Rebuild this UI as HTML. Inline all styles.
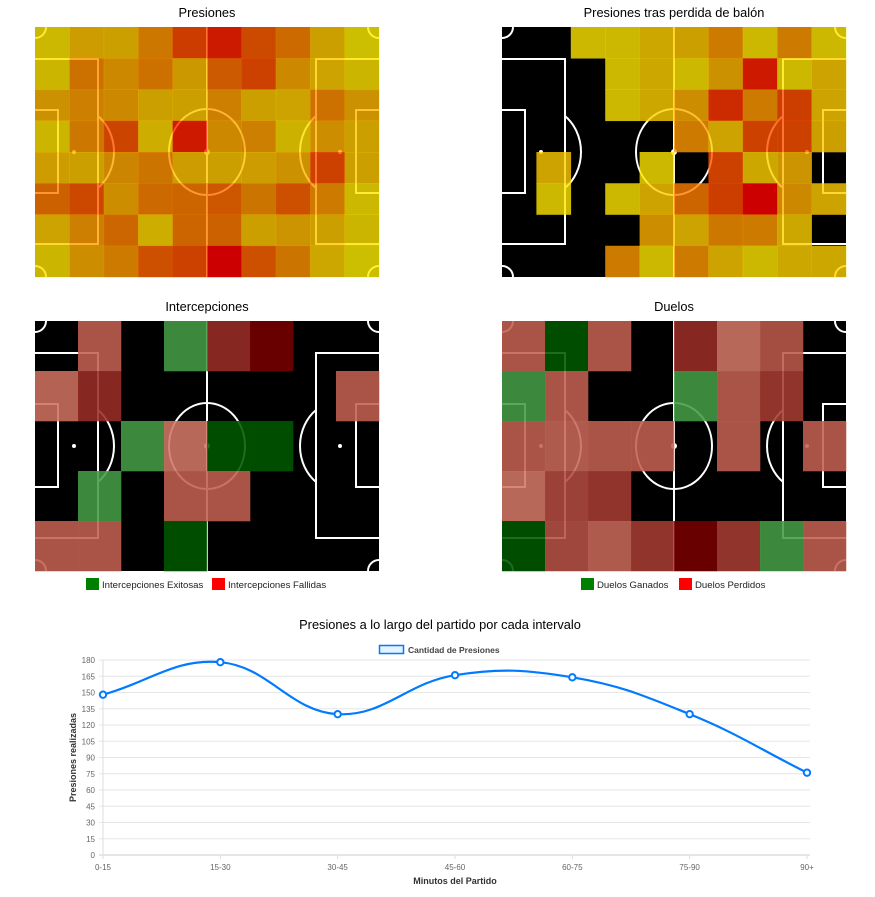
<!DOCTYPE html>
<html><head><meta charset="utf-8">
<style>
html,body{margin:0;padding:0;background:#fff;width:875px;height:897px;overflow:hidden;font-family:"Liberation Sans",Arial,sans-serif;}
svg{display:block}
</style></head>
<body>
<svg id="root" width="875" height="897" viewBox="0 0 875 897">
  <text x="207" y="17" text-anchor="middle" font-size="12.8" fill="#000">Presiones</text>
  <text x="674" y="17" text-anchor="middle" font-size="12.8" fill="#000">Presiones tras perdida de balón</text>
  <text x="207" y="311" text-anchor="middle" font-size="12.8" fill="#000">Intercepciones</text>
  <text x="674" y="311" text-anchor="middle" font-size="12.8" fill="#000">Duelos</text>
  <g id="p1"></g>
  <g id="p2"></g>
  <g id="p3"></g>
  <g id="p4"></g>
  <g>
    <rect x="86" y="578" width="13" height="12" fill="#008000"/>
    <text x="102" y="588" font-size="9.6" fill="#222">Intercepciones Exitosas</text>
    <rect x="212" y="578" width="13" height="12" fill="#ff0000"/>
    <text x="228" y="588" font-size="9.6" fill="#222">Intercepciones Fallidas</text>
  </g>
  <g>
    <rect x="581" y="578" width="13" height="12" fill="#008000"/>
    <text x="597" y="588" font-size="9.6" fill="#222">Duelos Ganados</text>
    <rect x="679" y="578" width="13" height="12" fill="#ff0000"/>
    <text x="695" y="588" font-size="9.6" fill="#222">Duelos Perdidos</text>
  </g>
  <text x="440" y="629" text-anchor="middle" font-size="12.8" fill="#000">Presiones a lo largo del partido por cada intervalo</text>
  <g>
    <rect x="379.5" y="645.5" width="24" height="8" fill="rgba(0,123,255,0.1)" stroke="#007bff" stroke-width="1.5"/>
    <text x="408" y="653" font-size="8.5" font-weight="bold" fill="#444">Cantidad de Presiones</text>
  </g>
  <g id="chart"></g>
</svg>
<script>
const presionesValues = [
  [3,18,16,37,69,86,61,44,16,0],
  [5,41,28,41,20,53,66,28,14,5],
  [24,33,28,16,16,33,16,14,41,24],
  [5,37,64,9,87,28,33,7,26,16],
  [18,16,30,39,18,16,18,24,66,16],
  [49,62,26,45,47,54,39,58,35,3],
  [14,33,46,9,47,49,16,22,16,5],
  [5,26,35,58,66,100,58,39,12,0]
];
const N = null;
const perdidaValues = [
  [N,N,3,3,12,16,35,3,35,3],
  [N,N,N,3,12,3,24,87,3,14],
  [N,N,N,3,12,26,78,35,68,14],
  [N,N,N,N,N,35,14,66,66,16],
  [N,14,N,N,3,N,66,12,22,N],
  [N,3,N,3,14,47,68,100,28,14],
  [N,N,N,N,26,14,37,35,12,N],
  [N,N,N,35,3,35,14,3,12,12]
];
const intercepcionesValues = [
  [N,-0.35,N,0.4,-0.7,-1,N,N],
  [-0.25,-0.7,N,N,N,N,N,-0.35],
  [N,N,0.4,-0.2,1,1,N,N],
  [N,0.4,N,-0.35,-0.35,N,N,N],
  [-0.35,-0.35,N,1,N,N,N,N]
];
const duelosValues = [
  [-0.35,1,-0.35,N,-0.7,-0.2,-0.4,N],
  [0.4,-0.35,N,N,0.4,-0.35,-0.6,N],
  [-0.35,-0.3,-0.35,-0.35,N,-0.35,N,-0.35],
  [-0.2,-0.5,-0.6,N,N,N,N,N],
  [1,-0.45,-0.3,-0.6,-1,-0.6,0.4,-0.35]
];
const intervals = ["0-15","15-30","30-45","45-60","60-75","75-90","90+"];
const presionesSeries = [148,178,130,166,164,130,76];
const yTicks = [0,15,30,45,60,75,90,105,120,135,150,165,180];

const NS = "http://www.w3.org/2000/svg";
function mk(tag, attrs, parent){
  const e = document.createElementNS(NS, tag);
  for (const k in attrs) e.setAttribute(k, attrs[k]);
  if (parent) parent.appendChild(e);
  return e;
}
const PW = 344, PH = 250;
function drawPitch(g, x0, y0){
  const bg = mk('rect', {x:x0,y:y0,width:PW,height:PH,fill:'#000'}, g);
  
  
  const lines = mk('g', {fill:'none',stroke:'#fff','stroke-width':2}, g);
  
  
  const cx = x0 + PW/2, cy = y0 + PH/2;
  mk('line', {x1:cx,y1:y0,x2:cx,y2:y0+PH}, lines);
  mk('ellipse', {cx:cx,cy:cy,rx:38,ry:43}, lines);
  mk('circle', {cx:cx,cy:cy,r:2,fill:'#fff'}, lines);
  [0,1].forEach(side=>{
    const s = side ? -1 : 1, ex = side ? x0+PW : x0;
    mk('path', {d:`M${ex} ${y0+32} H${ex+s*63} V${y0+217} H${ex}`}, lines);
    mk('path', {d:`M${ex} ${y0+83} H${ex+s*23} V${y0+166} H${ex}`}, lines);
    mk('circle', {cx:ex+s*39,cy:cy,r:2,fill:'#fff',stroke:'none'}, lines);
    const ax = ex + s*63, r = 40, ry = 45;
    const dy = ry*Math.sqrt(1 - Math.pow(24/r,2));
    mk('path', {d:`M${ax} ${cy-dy} A${r} ${ry} 0 0 ${side?0:1} ${ax} ${cy+dy}`}, lines);
    mk('path', {d:`M${ex} ${y0+11} A11 11 0 0 ${side?1:0} ${ex+s*11} ${y0}`}, lines);
    mk('path', {d:`M${ex} ${y0+PH-11} A11 11 0 0 ${side?0:1} ${ex+s*11} ${y0+PH}`}, lines);
  });
}
function heatColor(v){
  const g = Math.round((190 - 1.9*v)/0.8);
  return `rgb(255,${Math.max(0,Math.min(255,g))},0)`;
}
function duelColor(v){
  let c;
  if (v > 0){
    const t = (v-0.4)/0.6;
    c = [60-60*t, 136-59*t, 60-60*t];
  } else {
    const t = (-v-0.2)/0.8;
    c = [184-78*t, 104-104*t, 88-88*t];
  }
  return `rgb(${c.map(x=>Math.round(Math.min(255,x/0.88))).join(',')})`;
}
function drawHeat(id, x0, y0, data, colorFn, op){
  const g = document.getElementById(id);
  drawPitch(g, x0, y0);
  const rows = data.length, cols = data[0].length;
  const cw = PW/cols, ch = PH/rows;
  data.forEach((row, r)=>row.forEach((v, c)=>{
    if (v === null) return;
    const cell = mk('rect', {x:x0+c*cw, y:y0+r*ch, width:cw+0.3, height:ch+0.3, fill:colorFn(v), 'fill-opacity':op}, g);
    
    
  }));
}
drawHeat('p1', 35, 27, presionesValues, heatColor, 0.8);
drawHeat('p2', 502, 27, perdidaValues, heatColor, 0.8);
drawHeat('p3', 35, 321, intercepcionesValues, duelColor, 0.88);
drawHeat('p4', 502, 321, duelosValues, duelColor, 0.88);

const chart = document.getElementById('chart');
const X0 = 103, X1 = 807, Y0 = 855, Y1 = 660, YMAX = 180;
const xPos = i => X0 + i*(X1-X0)/(intervals.length-1);
const yPos = v => Y0 - v/YMAX*(Y0-Y1);
yTicks.forEach(t=>{
  const gl = mk('line', {x1:X0-4, x2:X1+3, y1:yPos(t), y2:yPos(t), stroke: t===0?'#ccc':'#e6e6e6', 'stroke-width':1}, chart);
  
  
  const tl = mk('text', {x:X0-8, y:yPos(t)+3, 'text-anchor':'end','font-size':8,fill:'#666'}, chart);
  tl.textContent = t;
  
  
});
const ax = mk('line', {x1:X0, x2:X0, y1:Y1, y2:Y0+4, stroke:'#ddd'}, chart);


intervals.forEach((lab, i)=>{
  const tk = mk('line', {x1:xPos(i), x2:xPos(i), y1:Y0, y2:Y0+4, stroke:'#ddd'}, chart);
  
  
  const tl = mk('text', {x:xPos(i), y:Y0+15, 'text-anchor':'middle','font-size':8,fill:'#666'}, chart);
  tl.textContent = lab;
  
  
});
const yt = mk('text', {x:0,y:0,'text-anchor':'middle','font-size':9,'font-weight':'bold',fill:'#333',transform:`translate(76,${(Y0+Y1)/2}) rotate(-90)`}, chart);
yt.textContent = 'Presiones realizadas';


const xt = mk('text', {x:(X0+X1)/2, y:884, 'text-anchor':'middle','font-size':9,'font-weight':'bold',fill:'#333'}, chart);
xt.textContent = 'Minutos del Partido';



const pts = presionesSeries.map((v,i)=>({x:xPos(i), y:yPos(v)}));
const tension = 0.4;
const cps = pts.map((p,i)=>{
  const prev = pts[Math.max(0,i-1)], next = pts[Math.min(pts.length-1,i+1)];
  const d01 = Math.hypot(p.x-prev.x, p.y-prev.y), d12 = Math.hypot(next.x-p.x, next.y-p.y);
  let s01 = d01/(d01+d12), s12 = d12/(d01+d12);
  if (isNaN(s01)) s01 = 0; if (isNaN(s12)) s12 = 0;
  const fa = tension*s01, fb = tension*s12;
  return {px:p.x - fa*(next.x-prev.x), py:p.y - fa*(next.y-prev.y), nx:p.x + fb*(next.x-prev.x), ny:p.y + fb*(next.y-prev.y)};
});
let d = `M${pts[0].x} ${pts[0].y}`;
for (let i=1;i<pts.length;i++){
  d += ` C${cps[i-1].nx} ${cps[i-1].ny} ${cps[i].px} ${cps[i].py} ${pts[i].x} ${pts[i].y}`;
}
const line = mk('path', {d:d, fill:'none', stroke:'#007bff', 'stroke-width':2.2}, chart);


pts.forEach(p=>{
  const c = mk('circle', {cx:p.x, cy:p.y, r:3.2, fill:'#fff', stroke:'#007bff', 'stroke-width':2}, chart);
  
  
});
</script>
</body></html>
